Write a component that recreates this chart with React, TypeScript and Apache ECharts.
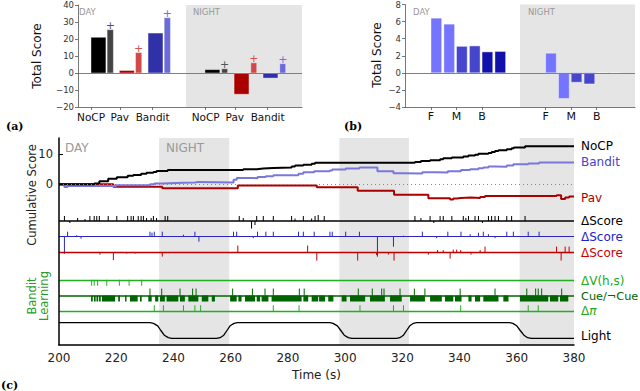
import React, { useEffect, useRef } from 'react';
import * as echarts from 'echarts';

// ---------- Panel (a): total score, day / night ----------
const aCats = ['NoCP', 'Pav', 'Bandit'];
const aDayMain = [21, 1.5, 23.5];
const aDayAlt = [25.5, 12, 32.5];
const aNightMain = [2, -12.5, -3];
const aNightAlt = [2.5, 6, 5.5];

// ---------- Panel (b): total score per region ----------
const bCats = ['F', 'M', 'B'];
const bDay = [[6.4, 5.7], [3.1, 3.15], [2.45, 2.5]];
const bNight = [[2.3, -3.0], [-1.1, -1.3], [0, 0]];

// ---------- Panel (c): time course ----------
const nightStart = [235, 298, 361];
const nightEnd = [259.5, 322.3, 380];

const noCP = [[200, 0], [212.3, 0.3], [214.1, 1.0], [217.2, 1.8], [220.2, 2.3], [224, 2.8], [226, 3.1], [228.7, 3.5], [230.6, 3.8], [233, 4.1], [234.1, 4.4], [238, 4.7], [264.4, 5.0], [269.1, 5.2], [271.4, 5.4], [274.9, 5.6], [281.3, 5.9], [282.5, 6.2], [285.4, 6.5], [288.3, 6.8], [289.5, 7.1], [324.4, 7.4], [326.5, 7.7], [329.7, 8.0], [333.2, 8.3], [334.3, 8.6], [337.3, 8.9], [341.3, 9.2], [343.1, 9.5], [345.4, 9.8], [346.6, 10.1], [350.1, 10.4], [351.2, 10.7], [352.4, 11.0], [353.6, 11.3], [356.5, 11.6], [358.2, 11.9], [359, 12.2], [362.9, 12.6], [380, 12.6]];
const bandit = [[200, -0.2], [201.9, -0.9], [203, -0.6], [206.2, -0.5], [207.7, -0.6], [220, -0.3], [231.8, 0], [233.3, 0.3], [236.1, 0.5], [243.5, 0.6], [247.5, 0.8], [248.9, 0.6], [261, 1.5], [262.1, 2.1], [267.9, 2.0], [269.4, 2.4], [272.3, 2.7], [274.9, 3.0], [283.7, 3.5], [285.4, 4.0], [289.2, 4.3], [294.7, 4.6], [295.5, 4.9], [300.2, 5.2], [305, 5.6], [311.3, 4.3], [316.9, 3.7], [320.4, 3.6], [327, 4.0], [332, 3.9], [335.9, 4.3], [340.5, 4.7], [343.7, 5.0], [346.6, 5.3], [348.3, 5.6], [350.1, 5.9], [352.4, 5.8], [356.5, 6.2], [358.8, 6.6], [364, 6.9], [367.8, 7.2], [380, 7.2]];
const pav = [[200, 0], [219, -0.8], [236.1, -1.3], [262.5, -0.4], [290.1, -1.0], [304.4, -2.1], [317.1, -3.5], [329.1, -4.6], [336.7, -5.0], [337.8, -4.7], [339, -4.5], [340.4, -4.4], [344, -4.5], [347.2, -4.2], [348.9, -3.9], [373.9, -3.6], [375.5, -4.9], [376.9, -4.4], [378.3, -4.0], [380, -4.0]];

const dScoreNoCP = [[201.9, 1], [203.8, -0.4], [206.5, 0.6], [209.1, 0.4], [210.8, 1], [212.3, 1], [213.2, 1], [214.1, 1], [217.2, 1], [220.2, 1], [224, 1], [225.2, 1], [226, 1], [227.7, 1], [228.7, 1], [229.5, 1], [230.6, 0.6], [232.2, 0.6], [233, 1], [234.1, 0.6], [237.1, 1], [238, 1], [263, 1], [264.4, 0.6], [267.3, -1.5], [268.5, -0.8], [269.1, 1], [271.4, 1], [274.9, 1], [281.3, 1], [282.5, 0.5], [285.4, 1], [288.3, 0.5], [289.5, 1], [290.6, 1.2], [292.7, 1], [324.4, 1], [326.5, 0.6], [329.7, 1], [331, -0.4], [333.2, 1], [334.3, 1], [337.3, 1], [341.3, 1], [342.2, 0.6], [343.1, 1], [345.4, 1], [346.6, 1], [348, -0.4], [350.1, 1], [351.2, 1], [352.4, 1], [353.6, 1], [356.5, 1], [358.2, 1], [362.9, 1]];
const dScoreBandit = [[201.9, -3.4], [203, 1], [206.2, 0.3], [207.7, -0.4], [231.8, 1], [232.5, 0.8], [233.3, 1], [236.1, 1], [243.5, 0.4], [247.5, 1], [248.9, -1], [261, 1], [262.1, 1], [267.9, -0.3], [269.4, 1], [272.3, 1], [274.9, 1], [283.7, 1], [285.4, 1], [289.2, 1], [294.7, 1], [295.5, 1], [300.2, 1], [305, 1], [311.3, -4], [316.9, -2], [320.4, 0.2], [327, 1], [332, -0.3], [335.9, 1], [340.5, 1], [343.7, 0.5], [346.6, 0.8], [348.3, 1], [350.1, 0.5], [352.4, -0.3], [356.5, 1], [358.8, 1], [364, 1], [367.8, 1]];
const dScorePav = [[214.3, -0.4], [219, -1.5], [223.7, -0.2], [226.6, -0.2], [236.1, -0.8], [262.5, 1.4], [286.9, 1.4], [290.1, -1.6], [304.4, -1.6], [311, -0.5], [315.1, -0.4], [317.1, -1.6], [329.1, -0.4], [332.3, 0.5], [334.3, 0.5], [336.7, -1.2], [337.8, 0.6], [339, 0.6], [340.4, 0.5], [344, -0.4], [347.2, 0.5], [348.9, 1.2], [373.9, 1.2], [375.5, -1.6], [376.9, 1.2], [378.3, 1.2]];

const dV = [211.4, 212.3, 213.5, 216.7, 221.1, 224.5, 228.9];
const dPi = [233.3, 236.5, 243.5, 247.5, 249.5, 274.9, 283.9, 305.2, 316.9, 320.4, 340.4, 364.0, 367.5];
const cueSpikes = [231.8, 235.9, 242.3, 246.7, 247.9, 260.7, 267.6, 272.0, 274.9, 284.0, 285.7, 304.6, 309.5, 312.8, 313.6, 319.2, 324.2, 327.9, 340.2, 352.4, 363.5, 366.6, 367.5, 368.7, 375.7];
const cueOn = [[211.2, 211.8], [212.2, 212.8], [213.1, 213.7], [214.0, 214.6], [215.0, 219.6], [220.7, 221.3], [223.1, 223.6], [224.8, 227.5], [228.3, 228.9], [231.2, 232.4], [233.6, 234.7], [235.3, 237.0], [237.6, 241.7], [242.3, 244.0], [245.2, 248.7], [249.9, 252.2], [253.4, 254.5], [259.8, 262.1], [262.7, 263.8], [265.0, 268.5], [269.1, 270.3], [270.8, 273.2], [274.3, 284.8], [285.4, 287.1], [288.3, 290.6], [290.9, 293.0], [294.1, 295.9], [298.8, 300.5], [301.7, 307.0], [308.7, 313.9], [315.7, 319.8], [322.7, 327.9], [329.7, 333.8], [334.9, 337.8], [338.4, 340.7], [343.1, 344.2], [345.4, 347.2], [348.3, 353.6], [355.3, 357.1], [361.1, 371.0], [371.6, 374.5], [375.1, 378.0]];

const light = [[200, 1], [231.8, 1], [233, 0.96], [234.5, 0.8], [235.6, 0.5], [236.8, 0.2], [238.2, 0.04], [239.4, 0], [255.1, 0], [256.3, 0.04], [257.6, 0.2], [258.7, 0.5], [259.8, 0.8], [261.2, 0.96], [262.3, 1], [294.7, 1], [295.8, 0.96], [297.3, 0.8], [298.5, 0.5], [299.7, 0.2], [301.1, 0.04], [302.3, 0], [318, 0], [319.1, 0.04], [320.4, 0.2], [321.5, 0.5], [322.6, 0.8], [323.9, 0.96], [325, 1], [357.5, 1], [358.6, 0.96], [360, 0.8], [361.2, 0.5], [362.5, 0.2], [363.8, 0.04], [365, 0], [380, 0]];

// ---------- layout (positions in axis units) ----------
const aDayX = [0.87, 2.77, 4.69];
const aNightX = [8.5, 10.45, 12.39];
const aLabelX = [0.87, 2.8, 5.0, 8.55, 10.5, 12.7];
const aNightRegion = [7.23, 15];
const bDayX = [2.26, 4.48, 6.7];
const bNightX = [12.23, 14.45, 16.67];
const bNightRegion = [10, 20];

const FONT = 'DejaVu Sans';
const GRAY = '#e5e5e5';

const nearestName = (xs: number[], names: string[]) => (v: number) => {
  for (let i = 0; i < xs.length; i++) if (Math.abs(xs[i] - v) < 1e-6) return names[i];
  return '';
};

const barRender = (colors: string[]) => (params: any, api: any) => {
  const x0 = api.value(0), x1 = api.value(1), v = api.value(2);
  const a = api.coord([x0, v]);
  const b = api.coord([x1, 0]);
  return {
    type: 'rect',
    shape: { x: a[0], y: Math.min(a[1], b[1]), width: b[0] - a[0], height: Math.abs(b[1] - a[1]) },
    style: { fill: colors[params.dataIndex], stroke: 'rgba(255,255,255,0.6)', lineWidth: 0.7 },
  };
};

const nightRender = (params: any, api: any) => {
  const a = api.coord([api.value(0), 0]);
  const b = api.coord([api.value(1), 0]);
  const cs = params.coordSys;
  return { type: 'rect', shape: { x: a[0], y: cs.y, width: b[0] - a[0], height: cs.height }, style: { fill: GRAY } };
};

const spikeRender = (color: string, w = 1) => (params: any, api: any) => {
  const a = api.coord([api.value(0), 0]);
  const b = api.coord([api.value(0), api.value(1)]);
  return { type: 'line', shape: { x1: a[0], y1: a[1], x2: b[0], y2: b[1] }, style: { stroke: color, lineWidth: w } };
};

const tickRender = (color: string, len: number, w = 1) => (params: any, api: any) => {
  const a = api.coord([api.value(0), api.value(1)]);
  return { type: 'line', shape: { x1: a[0], y1: a[1], x2: a[0], y2: a[1] + len }, style: { stroke: color, lineWidth: w } };
};

export default function App() {
  const ref = useRef<HTMLDivElement>(null);
  useEffect(() => {
    if (!ref.current) return;
    const chart = echarts.init(ref.current, null, { renderer: 'svg' });

    const aColorsMain = ['#000000', '#aa0000', '#3030a8'];
    const aColorsAlt = ['#444444', '#d04848', '#6a6ad8'];
    const aPlusColors = ['#555555', '#dd5050', '#7070e0'];
    const aBars: number[][] = [];
    const aBarColors: string[] = [];
    const aPlus: number[][] = [];
    const aPlusCol: string[] = [];
    aCats.forEach((_, i) => {
      aBars.push([aDayX[i], aDayX[i] + 1, aDayMain[i]]); aBarColors.push(aColorsMain[i]);
      aBars.push([aDayX[i] + 1.08, aDayX[i] + 1.5, aDayAlt[i]]); aBarColors.push(aColorsAlt[i]);
      aPlus.push([aDayX[i] + 1.29, aDayAlt[i]]); aPlusCol.push(aPlusColors[i]);
      aBars.push([aNightX[i], aNightX[i] + 1, aNightMain[i]]); aBarColors.push(aColorsMain[i]);
      aBars.push([aNightX[i] + 1.12, aNightX[i] + 1.52, aNightAlt[i]]); aBarColors.push(aColorsAlt[i]);
      aPlus.push([aNightX[i] + 1.32, aNightAlt[i]]); aPlusCol.push(aPlusColors[i]);
    });

    const bColors = ['#7474ff', '#4646cc', '#1010aa'];
    const bBars: number[][] = [];
    const bBarColors: string[] = [];
    bCats.forEach((_, i) => {
      const groups: [number[], number[][]][] = [[bDayX, bDay], [bNightX, bNight]];
      groups.forEach(([xs, vals]) => {
        bBars.push([xs[i], xs[i] + 0.93, vals[i][0]]); bBarColors.push(bColors[i]);
        bBars.push([xs[i] + 1.12, xs[i] + 2.05, vals[i][1]]); bBarColors.push(bColors[i]);
      });
    });

    const C_LEFT = 59, C_W = 515;
    const hiddenX = (gi: number) => ({ type: 'value', gridIndex: gi, min: 200, max: 380, show: false });
    const hiddenY = (gi: number, min: number, max: number) => ({ type: 'value', gridIndex: gi, min, max, show: false });

    const smallAxisY = (gi: number, min: number, max: number, interval: number) => ({
      type: 'value', gridIndex: gi, min, max, interval, z: 10,
      axisLine: { show: true, lineStyle: { color: '#555', width: 0.8 } },
      axisTick: { show: true, length: 3, lineStyle: { color: '#555', width: 0.8 } },
      axisLabel: { fontSize: 8.5, color: '#333', margin: 4, fontFamily: FONT, formatter: (v: number) => (v < 0 ? '\u2212' + Math.abs(v) : String(v)) },
      splitLine: { show: false },
    });
    const smallAxisX = (gi: number, max: number, xs: number[], names: string[], fs: number) => ({
      type: 'value', gridIndex: gi, min: 0, max, z: 10,
      axisLine: { show: true, onZero: false, lineStyle: { color: '#555', width: 0.8 } },
      axisTick: { show: true, length: 3, customValues: xs, lineStyle: { color: '#555', width: 0.8 } },
      axisLabel: { show: true, customValues: xs, fontSize: fs, color: '#111', margin: 4, fontFamily: FONT, formatter: nearestName(xs, names) },
      splitLine: { show: false },
    });

    const txt = (x: number, y: number, text: string, fill: string, fontSize: number, extra: any = {}) => ({
      type: 'text', x, y, z: 100, rotation: extra.rotation || 0,
      style: { text, fill, fontSize, fontFamily: extra.fontFamily || FONT, fontWeight: extra.fontWeight || 'normal', lineHeight: extra.lineHeight, align: extra.align || 'left', verticalAlign: 'middle' },
    });
    const rightLabel = (y: number, text: string, color: string, fs = 12) => txt(581, y, text, color, fs);

    const learnRows = { dv: 2, cue: 1, pi: 0 };
    const baseLine = (color: string, width: number, type: any = 'solid') => ({
      silent: true, symbol: ['none', 'none'], label: { show: false }, lineStyle: { color, width, type }, data: [{ yAxis: 0 }],
    });

    const option: any = {
      animation: false,
      textStyle: { fontFamily: FONT },
      grid: [
        { left: 78, top: 5, width: 224, height: 102 },
        { left: 405, top: 4, width: 230, height: 103 },
        { left: C_LEFT, top: 138, width: C_W, height: 207 },
        { left: C_LEFT, top: 139, width: C_W, height: 75.5 },
        { left: C_LEFT, top: 211, width: C_W, height: 20 },
        { left: C_LEFT, top: 226.7, width: C_W, height: 20 },
        { left: C_LEFT, top: 242.6, width: C_W, height: 20 },
        { left: C_LEFT, top: 271.9, width: C_W, height: 47.25 },
        { left: C_LEFT, top: 322.7, width: C_W, height: 15.6 },
      ],
      xAxis: [
        smallAxisX(0, 15, aLabelX, [...aCats, ...aCats], 10.5),
        smallAxisX(1, 20, [...bDayX, ...bNightX], [...bCats, ...bCats], 11),
        {
          type: 'value', gridIndex: 2, min: 200, max: 380, interval: 20, z: 10,
          axisLine: { show: true, onZero: false, lineStyle: { color: '#000', width: 1.5 } },
          axisTick: { show: false },
          axisLabel: { fontSize: 12, color: '#222', margin: 7, fontFamily: FONT },
          splitLine: { show: false },
          name: 'Time (s)', nameLocation: 'middle', nameGap: 22,
          nameTextStyle: { fontSize: 12, color: '#222', fontFamily: FONT },
        },
        hiddenX(3), hiddenX(4), hiddenX(5), hiddenX(6), hiddenX(7), hiddenX(8),
      ],
      yAxis: [
        smallAxisY(0, -20, 40, 10),
        smallAxisY(1, -4, 8, 2),
        {
          type: 'value', gridIndex: 2, min: 0, max: 1, z: 10,
          axisLine: { show: true, lineStyle: { color: '#000', width: 1.5 } },
          axisTick: { show: false }, axisLabel: { show: false }, splitLine: { show: false },
        },
        {
          type: 'value', gridIndex: 3, min: -10, max: 15, interval: 10, z: 10,
          axisLine: { show: false },
          axisTick: { show: true, inside: true, length: 4, customValues: [0, 10], lineStyle: { color: '#000', width: 1 } },
          axisLabel: { show: true, customValues: [0, 10], fontSize: 11.5, color: '#222', margin: 6, fontFamily: FONT, formatter: (v: number) => (v === -10 ? '' : String(v)) },
          splitLine: { show: false },
        },
        hiddenY(4, -2, 2), hiddenY(5, -2, 2), hiddenY(6, -2, 2), hiddenY(7, -0.5, 2.5), hiddenY(8, 0, 1),
      ],
      series: [
        { type: 'custom', xAxisIndex: 0, yAxisIndex: 0, z: 1, silent: true, renderItem: nightRender, data: [aNightRegion] },
        { type: 'custom', xAxisIndex: 1, yAxisIndex: 1, z: 1, silent: true, renderItem: nightRender, data: [bNightRegion] },
        { type: 'custom', xAxisIndex: 2, yAxisIndex: 2, z: 1, silent: true, renderItem: nightRender, data: nightStart.map((s, i) => [s, nightEnd[i]]) },
        { type: 'custom', xAxisIndex: 0, yAxisIndex: 0, z: 3, renderItem: barRender(aBarColors), data: aBars, markLine: baseLine('#808080', 1) },
        {
          type: 'custom', xAxisIndex: 0, yAxisIndex: 0, z: 3, data: aPlus,
          renderItem: (params: any, api: any) => {
            const p = api.coord([api.value(0), api.value(1)]);
            return { type: 'text', x: p[0], y: p[1] + 1, style: { text: '+', fill: aPlusCol[params.dataIndex], fontSize: 11, fontFamily: FONT, align: 'center', verticalAlign: 'bottom' } };
          },
        },
        { type: 'custom', xAxisIndex: 1, yAxisIndex: 1, z: 3, renderItem: barRender(bBarColors), data: bBars, markLine: baseLine('#808080', 1) },
        {
          type: 'line', xAxisIndex: 3, yAxisIndex: 3, z: 4, step: 'end', showSymbol: false, data: pav,
          lineStyle: { color: '#aa0000', width: 2 }, itemStyle: { color: '#aa0000' }, markLine: baseLine('#888', 1, [1, 3]),
        },
        { type: 'line', xAxisIndex: 3, yAxisIndex: 3, z: 4, step: 'end', showSymbol: false, data: bandit, lineStyle: { color: '#7878dc', width: 2 }, itemStyle: { color: '#7878dc' } },
        { type: 'line', xAxisIndex: 3, yAxisIndex: 3, z: 4, step: 'end', showSymbol: false, data: noCP, lineStyle: { color: '#000', width: 2 }, itemStyle: { color: '#000' } },
        { type: 'custom', xAxisIndex: 4, yAxisIndex: 4, z: 4, renderItem: spikeRender('#000'), data: dScoreNoCP, markLine: baseLine('#000', 1.5) },
        { type: 'custom', xAxisIndex: 5, yAxisIndex: 5, z: 4, renderItem: spikeRender('#2828c0'), data: dScoreBandit, markLine: baseLine('#2828c0', 1.2) },
        { type: 'custom', xAxisIndex: 6, yAxisIndex: 6, z: 4, renderItem: spikeRender('#c00000'), data: dScorePav, markLine: baseLine('#c00000', 1.3) },
        {
          type: 'custom', xAxisIndex: 7, yAxisIndex: 7, z: 4, renderItem: tickRender('#22b022', 6), data: dV.map((t) => [t, learnRows.dv]),
          markLine: {
            silent: true, symbol: ['none', 'none'], label: { show: false },
            data: [
              { yAxis: learnRows.dv, lineStyle: { color: '#22b022', width: 1.3, type: 'solid' } },
              { yAxis: learnRows.cue, lineStyle: { color: '#006400', width: 1.6, type: 'solid' } },
              { yAxis: learnRows.pi, lineStyle: { color: '#22b022', width: 1.3, type: 'solid' } },
            ],
          },
        },
        { type: 'custom', xAxisIndex: 7, yAxisIndex: 7, z: 4, renderItem: tickRender('#22b022', -6), data: dPi.map((t) => [t, learnRows.pi]) },
        { type: 'custom', xAxisIndex: 7, yAxisIndex: 7, z: 4, renderItem: tickRender('#006400', -7), data: cueSpikes.map((t) => [t, learnRows.cue]) },
        {
          type: 'custom', xAxisIndex: 7, yAxisIndex: 7, z: 4, data: cueOn.map(([s, e]) => [s, e, learnRows.cue]),
          renderItem: (params: any, api: any) => {
            const a = api.coord([api.value(0), api.value(2)]);
            const b = api.coord([api.value(1), api.value(2)]);
            return { type: 'rect', shape: { x: a[0], y: a[1], width: Math.max(1, b[0] - a[0]), height: 6 }, style: { fill: '#006400' } };
          },
        },
        { type: 'line', xAxisIndex: 8, yAxisIndex: 8, z: 4, showSymbol: false, data: light, lineStyle: { color: '#000', width: 1.3 }, itemStyle: { color: '#000' } },
      ],
      graphic: [
        txt(37, 56, 'Total Score', '#111', 12, { rotation: Math.PI / 2, align: 'center' }),
        txt(377, 55, 'Total Score', '#111', 12, { rotation: Math.PI / 2, align: 'center' }),
        txt(79, 12, 'DAY', '#999', 8.5),
        txt(193, 12, 'NIGHT', '#999', 8.5),
        txt(413, 12, 'DAY', '#999', 8.5),
        txt(528, 12, 'NIGHT', '#999', 8.5),
        txt(6, 126, '(a)', '#000', 11, { fontWeight: 'bold', fontFamily: 'DejaVu Serif' }),
        txt(344, 126, '(b)', '#000', 11, { fontWeight: 'bold', fontFamily: 'DejaVu Serif' }),
        txt(1, 385, '(c)', '#000', 11, { fontWeight: 'bold', fontFamily: 'DejaVu Serif' }),
        txt(65, 148, 'DAY', '#999', 12),
        txt(166, 148, 'NIGHT', '#999', 12),
        txt(32, 195, 'Cumulative Score', '#222', 11.5, { rotation: Math.PI / 2, align: 'center' }),
        txt(38, 296, 'Bandit\nLearning', '#2a9a2a', 11.5, { rotation: Math.PI / 2, align: 'center', lineHeight: 12 }),
        rightLabel(146, 'NoCP', '#000'),
        rightLabel(162, 'Bandit', '#4444cc'),
        rightLabel(198, 'Pav', '#aa0000'),
        rightLabel(221, '\u0394Score', '#000'),
        rightLabel(237, '\u0394Score', '#2222cc'),
        rightLabel(252.5, '\u0394Score', '#cc0000'),
        rightLabel(281, '\u0394V(h,s)', '#22aa22'),
        rightLabel(296, 'Cue/\u00acCue', '#006400', 11.3),
        {
          type: 'text', x: 581, y: 311, z: 100,
          style: {
            text: '{a|\u0394}{b|\u03c0}', align: 'left', verticalAlign: 'middle',
            rich: { a: { fill: '#22aa22', fontSize: 12, fontFamily: FONT }, b: { fill: '#22aa22', fontSize: 12, fontFamily: FONT, fontStyle: 'italic' } },
          },
        },
        rightLabel(336, 'Light', '#000'),
      ],
    };
    chart.setOption(option);
    return () => chart.dispose();
  }, []);
  return <div ref={ref} style={{ position: 'fixed', left: 0, top: 0, width: 640, height: 391, background: '#fff' }} />;
}
